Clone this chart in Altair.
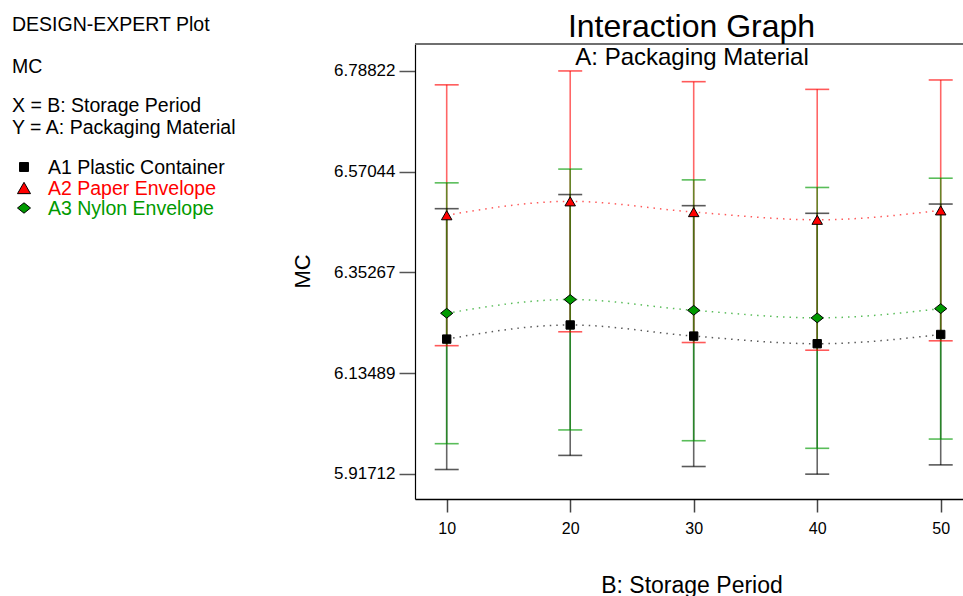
import altair as alt
import pandas as pd

# Storage period levels (factor B)
periods = [10, 20, 30, 40, 50]

# Packaging material levels (factor A) and their display colours
series_names = ["A1 Plastic Container", "A2 Paper Envelope", "A3 Nylon Envelope"]
series_colors = ["#000000", "#ff0000", "#009a00"]

# Predicted mean MC for each packaging material at each storage period
mc_plastic = [6.2085, 6.2390, 6.2150, 6.1985, 6.2185]
mc_paper = [6.4760, 6.5060, 6.4828, 6.4662, 6.4865]
mc_nylon = [6.2643, 6.2940, 6.2707, 6.2543, 6.2743]

# Half-width of the LSD bars drawn around each mean
lsd_half = 0.2817

# Axis tick values
y_ticks = [5.91712, 6.13489, 6.35267, 6.57044, 6.78822]
x_ticks = [10, 20, 30, 40, 50]

FONT = "Liberation Sans"
W, H = 548, 455

rows = []
for name, vals in zip(series_names, [mc_plastic, mc_paper, mc_nylon]):
    for p, v in zip(periods, vals):
        rows.append({"period": p, "series": name, "mc": v,
                     "lo": v - lsd_half, "hi": v + lsd_half})
df = pd.DataFrame(rows)

# draw order for the bars: plastic underneath, then paper, nylon on top
bar_order = {series_names[0]: 0, series_names[1]: 1, series_names[2]: 2}
df_bars = df.assign(o=df["series"].map(bar_order)).sort_values(["o", "period"])

x_enc = alt.X(
    "period:Q",
    scale=alt.Scale(domain=[7.433, 51.805], nice=False, zero=False),
    axis=alt.Axis(
        values=x_ticks, format="d", grid=False,
        labelFontSize=16, labelColor="black", labelPadding=8,
        tickSize=13, tickColor="#444444", tickWidth=1.5,
        domainColor="black", domainWidth=1.5,
        title="B: Storage Period", titleFontSize=23, titleFontWeight="normal",
        titleColor="black", titleX=276.5, titleY=86, titleAlign="center",
        titleBaseline="middle", titleAnchor="start",
    ),
)
y_scale = alt.Scale(domain=[5.86312, 6.84589], nice=False, zero=False)
y_axis = alt.Axis(
    values=y_ticks, format=".5f", grid=False,
    labelFontSize=17, labelColor="black", labelPadding=4,
    tickSize=16, tickColor="#555555", tickWidth=1.5,
    domainColor="black", domainWidth=1.2,
    title="MC", titleFontSize=22, titleFontWeight="normal", titleColor="black",
    titleX=-113, titleY=227, titleAlign="center", titleBaseline="middle",
    titleAngle=-90, titleAnchor="start",
)
color_enc = alt.Color("series:N", scale=alt.Scale(domain=series_names, range=series_colors),
                      legend=None)

base_bars = alt.Chart(df_bars)

bars = base_bars.mark_rule(strokeWidth=1.6, opacity=0.6).encode(
    x=x_enc,
    y=alt.Y("lo:Q", scale=y_scale, axis=y_axis),
    y2="hi:Q",
    color=color_enc,
    order=alt.Order("o:Q"),
)
caps_hi = base_bars.mark_tick(orient="horizontal", size=24, thickness=1.6, opacity=0.65).encode(
    x="period:Q", y=alt.Y("hi:Q"), color=color_enc,
)
caps_lo = base_bars.mark_tick(orient="horizontal", size=24, thickness=1.6, opacity=0.65).encode(
    x="period:Q", y=alt.Y("lo:Q"), color=color_enc,
)

lines = alt.Chart(df).mark_line(
    interpolate="monotone", strokeDash=[1.5, 5], strokeWidth=1.5, opacity=0.65
).encode(
    x="period:Q", y="mc:Q", color=color_enc, detail="series:N",
)

diamond = "M-1,0L0,-0.8L1,0L0,0.8Z"
shape_range = ["square", "triangle-up", diamond]
size_range = [70, 150, 150]

points = alt.Chart(df).mark_point(filled=True, opacity=1, stroke="black", strokeWidth=1).encode(
    x="period:Q", y="mc:Q", color=color_enc,
    shape=alt.Shape("series:N", scale=alt.Scale(domain=series_names, range=shape_range), legend=None),
    size=alt.Size("series:N", scale=alt.Scale(domain=series_names, range=size_range), legend=None),
)

top_edge = alt.Chart(pd.DataFrame({"edge": [0]})).mark_rule(color="#6f6f6f", strokeWidth=2).encode(
    x=alt.value(0), x2=alt.value(W), y=alt.value(0),
)


def label(text, x, y, size, color="black", align="left"):
    return alt.Chart(pd.DataFrame({"t": [text]})).mark_text(
        font=FONT, fontSize=size, color=color, align=align, baseline="middle",
    ).encode(text="t:N", x=alt.value(x), y=alt.value(y))


LEFT = 19.5
texts = [
    label("Interaction Graph", 276.5, -17, 32, align="center"),
    label("A: Packaging Material", 277, 13.5, 24, align="center"),
    label("DESIGN-EXPERT Plot", -403, -19, LEFT),
    label("MC", -403, 23, LEFT),
    label("X = B: Storage Period", -403, 62, LEFT),
    label("Y = A: Packaging Material", -403, 83.5, LEFT),
]

legend_rows_y = [122.5, 143.5, 163.5]
legend_sizes = [80, 170, 170]
legend_layers = []
for name, col, shp, sz, yy in zip(series_names, series_colors, shape_range, legend_sizes, legend_rows_y):
    legend_layers.append(
        alt.Chart(pd.DataFrame({"s": [name]})).mark_point(
            filled=True, shape=shp, size=sz, fill=col, stroke="black", strokeWidth=1, opacity=1
        ).encode(x=alt.value(-391), y=alt.value(yy + 0.5))
    )
    legend_layers.append(label(name, -367, yy + 1, LEFT, color=col))

chart = alt.layer(
    bars, caps_hi, caps_lo, lines, points, top_edge, *texts, *legend_layers
).properties(
    width=W, height=H,
    autosize=alt.AutoSizeParams(type="none"),
    padding={"left": 415, "top": 44, "right": 0, "bottom": 97},
    background="white",
).configure(font=FONT).configure_view(stroke=None).configure_axisX(
    labelFontSize=16
)

chart.save("out.html", embed_options={"renderer": "svg", "actions": False})
